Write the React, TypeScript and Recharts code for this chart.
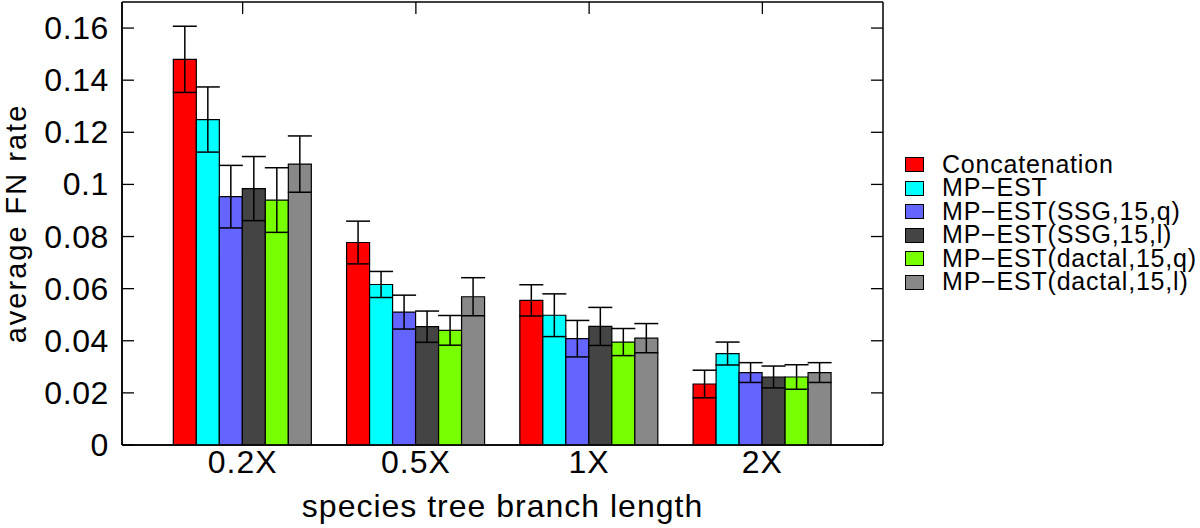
import React from 'react';
import { ComposedChart, Bar, XAxis, YAxis, CartesianGrid, ErrorBar, Legend, Label } from 'recharts';

// ---------- data ----------
const CATEGORIES = ['0.2X', '0.5X', '1X', '2X'];

const SERIES_NAMES = [
  'Concatenation',
  'MP\u2212EST',
  'MP\u2212EST(SSG,15,q)',
  'MP\u2212EST(SSG,15,l)',
  'MP\u2212EST(dactal,15,q)',
  'MP\u2212EST(dactal,15,l)',
];
const SERIES_COLORS = ['#ff0000', '#00ffff', '#6464ff', '#444444', '#77ff00', '#888888'];

const concatenation = [0.148, 0.0777, 0.0555, 0.0234];
const mpEst = [0.1249, 0.0616, 0.0498, 0.0351];
const ssgQ = [0.0953, 0.051, 0.0408, 0.0278];
const ssgL = [0.0984, 0.0454, 0.0455, 0.0261];
const dactalQ = [0.094, 0.044, 0.0395, 0.0261];
const dactalL = [0.1078, 0.0569, 0.041, 0.0278];

const concatenationErr = [0.0127, 0.0082, 0.006, 0.0053];
const mpEstErr = [0.0125, 0.005, 0.0082, 0.0044];
const ssgQErr = [0.012, 0.0065, 0.007, 0.0038];
const ssgLErr = [0.0123, 0.006, 0.0073, 0.0042];
const dactalQErr = [0.0124, 0.0057, 0.0052, 0.0047];
const dactalLErr = [0.0108, 0.0073, 0.0056, 0.0038];

const Y_TICKS = [0, 0.02, 0.04, 0.06, 0.08, 0.1, 0.12, 0.14, 0.16];
const Y_DOMAIN = [0, 0.17];

const X_TITLE = 'species tree branch length';
const Y_TITLE = 'average FN rate';

const VALUES = [concatenation, mpEst, ssgQ, ssgL, dactalQ, dactalL];
const ERRORS = [concatenationErr, mpEstErr, ssgQErr, ssgLErr, dactalQErr, dactalLErr];

const DATA = CATEGORIES.map((cat, i) => {
  const row: Record<string, any> = { cat };
  VALUES.forEach((arr, s) => {
    row[`v${s}`] = arr[i];
    row[`e${s}`] = ERRORS[s][i];
  });
  return row;
});

// ---------- layout ----------
const W = 1200;
const H = 528;
const MARGIN = { top: 2, right: 317, bottom: 0, left: 0 };
const Y_AXIS_W = 122;
const X_AXIS_H = 83;
const PLOT_LEFT = MARGIN.left + Y_AXIS_W;
const PLOT_RIGHT = W - MARGIN.right;
const PLOT_TOP = MARGIN.top;
const TICK_LEN = 12;
const FONT = '"Liberation Sans", Arial, Helvetica, sans-serif';

const fmt = (v: number) => String(parseFloat(v.toFixed(2)));

const YTick = (props: any) => {
  const { y, payload } = props;
  return (
    <g>
      <line x1={PLOT_LEFT} x2={PLOT_LEFT + TICK_LEN} y1={y} y2={y} stroke="#000" strokeWidth={1.3} />
      <line x1={PLOT_RIGHT - TICK_LEN} x2={PLOT_RIGHT} y1={y} y2={y} stroke="#000" strokeWidth={1.3} />
      <text x={PLOT_LEFT - 13} y={y + 11} textAnchor="end" fontSize={32} letterSpacing={0.6} fontFamily={FONT} fill="#000">
        {fmt(payload.value)}
      </text>
    </g>
  );
};

const XTick = (props: any) => {
  const { x, payload } = props;
  return (
    <g>
      <line x1={x} x2={x} y1={PLOT_TOP} y2={PLOT_TOP + TICK_LEN} stroke="#000" strokeWidth={1.3} />
      <text x={x} y={473} textAnchor="middle" fontSize={32} letterSpacing={1} fontFamily={FONT} fill="#000">
        {payload.value}
      </text>
    </g>
  );
};

const XTitle = (props: any) => {
  const vb = props.viewBox || { x: PLOT_LEFT, y: 445, width: PLOT_RIGHT - PLOT_LEFT, height: X_AXIS_H };
  return (
    <text x={vb.x + vb.width / 2} y={vb.y + 72} textAnchor="middle" fontSize={32} letterSpacing={1} fontFamily={FONT} fill="#000">
      {X_TITLE}
    </text>
  );
};

const YTitle = (props: any) => {
  const vb = props.viewBox || { x: 0, y: PLOT_TOP, width: Y_AXIS_W, height: 443 };
  const cx = vb.x + 26;
  const cy = vb.y + vb.height / 2;
  return (
    <text x={cx} y={cy} transform={`rotate(-90 ${cx} ${cy})`} textAnchor="middle" fontSize={29} letterSpacing={2} fontFamily={FONT} fill="#000">
      {Y_TITLE}
    </text>
  );
};

const LegendContent = () => (
  <div style={{ fontFamily: FONT, fontSize: 25, letterSpacing: 0.8, color: '#000' }}>
    {SERIES_NAMES.map((name, i) => (
      <div key={name} style={{ display: 'flex', alignItems: 'center', height: 23.5, lineHeight: '23.5px', whiteSpace: 'nowrap' }}>
        <div
          style={{
            width: 19,
            height: 15,
            boxSizing: 'border-box',
            border: '1px solid #000',
            background: SERIES_COLORS[i],
            marginRight: 18,
            flex: 'none',
          }}
        />
        <span style={{ display: 'inline-block', height: 23.5, lineHeight: '23.5px', overflow: 'visible' }}>{name}</span>
      </div>
    ))}
  </div>
);

export default function App() {
  return (
    <div style={{ position: 'absolute', left: 0, top: 0, width: W, height: H, background: '#fff' }}>
      <ComposedChart width={W} height={H} data={DATA} margin={MARGIN} barCategoryGap="10%" barGap={0}>
        <CartesianGrid
          stroke="#000"
          strokeWidth={1.5}
          verticalCoordinatesGenerator={({ offset }: any) => [offset.left, offset.left + offset.width]}
          horizontalCoordinatesGenerator={({ offset }: any) => [offset.top, offset.top + offset.height]}
        />
        <XAxis
          dataKey="cat"
          type="category"
          height={X_AXIS_H}
          padding={{ left: 34, right: 34 }}
          tickLine={false}
          axisLine={{ stroke: '#000', strokeWidth: 1.5 }}
          tick={<XTick />}
          interval={0}
        >
          <Label content={XTitle} />
        </XAxis>
        <YAxis
          type="number"
          width={Y_AXIS_W}
          domain={Y_DOMAIN}
          ticks={Y_TICKS}
          tickLine={false}
          axisLine={{ stroke: '#000', strokeWidth: 1.5 }}
          tick={<YTick />}
          interval={0}
          allowDataOverflow
        >
          <Label content={YTitle} />
        </YAxis>
        <Legend
          layout="vertical"
          align="center"
          verticalAlign="middle"
          content={LegendContent}
          wrapperStyle={{ left: 905, top: 152.75, width: 290, height: 141 }}
        />
        {SERIES_NAMES.map((name, s) => (
          <Bar
            key={name}
            dataKey={`v${s}`}
            name={name}
            fill={SERIES_COLORS[s]}
            stroke="#000"
            strokeWidth={1.2}
            isAnimationActive={false}
          >
            <ErrorBar dataKey={`e${s}`} width={12} stroke="#000" strokeWidth={1.5} direction="y" />
          </Bar>
        ))}
      </ComposedChart>
    </div>
  );
}
